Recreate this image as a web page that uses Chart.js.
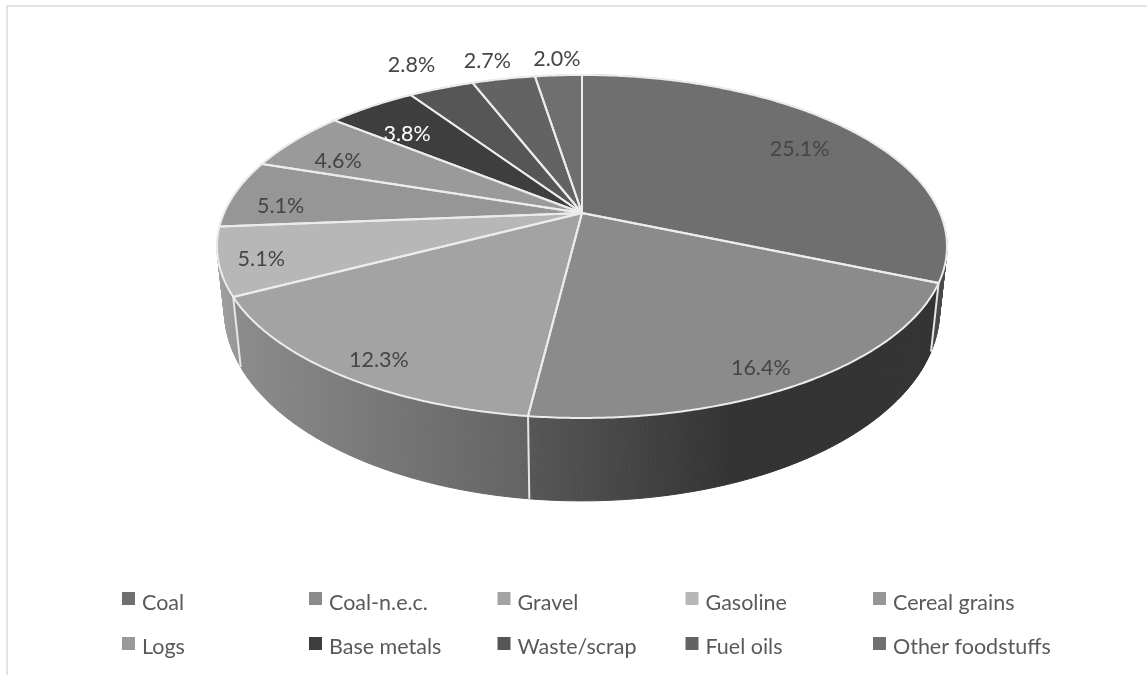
<!DOCTYPE html>
<html>
<head>
<meta charset="utf-8">
<title>Freight share by commodity</title>
<script src="https://cdn.jsdelivr.net/npm/chart.js@4/dist/chart.umd.min.js"></script>
<style>
    html, body { margin: 0; padding: 0; background: #fff; }
    #wrap { position: relative; width: 1147px; height: 675px; overflow: hidden; }
    #frame { position: absolute; left: 6px; top: 5px; right: 0; bottom: 0; border-top: 2px solid #e3e3e3; border-left: 2px solid #e3e3e3; }
    canvas { position: absolute; left: 0; top: 0; }
</style>
</head>
<body>
<div id="wrap">
    <canvas id="pieChart" width="1147" height="675"></canvas>
    <div id="frame"></div>
</div>
<script>
const categories = ['Coal', 'Coal-n.e.c.', 'Gravel', 'Gasoline', 'Cereal grains', 'Logs', 'Base metals', 'Waste/scrap', 'Fuel oils', 'Other foodstuffs'];
const shares = [25.1, 16.4, 12.3, 5.1, 5.1, 4.6, 3.8, 2.8, 2.7, 2.0];

const topColors = ['#6f6f6f', '#8b8b8b', '#a3a3a3', '#b7b7b7', '#969696', '#9a9a9a', '#3e3e3e', '#565656', '#636363', '#6f6f6f'];
const labelColors = ['#454545', '#454545', '#454545', '#454545', '#454545', '#454545', '#ffffff', '#454545', '#454545', '#454545'];
// left and right shade of the outer wall, per slice
const wallShades = [['#3a3a3a', '#4a4a4a'], ['#575757', '#333333'], ['#8c8c8c', '#636363'], ['#a2a2a2', '#949494']];
// where each percentage sits: distance out along the slice (1 = rim), and degrees off its middle
const labelRadius = [0.78, 0.9, 0.9, 0.89, 0.85, 0.8, 0.755, 1.23, 1.17, 1.14];
const labelTurn = [0.9, 2, -2.2, -1.2, -3.9, -3.9, -3.2, -0.5, -0.9, 0.2];

// tilted disc: unit circle to screen, with perspective
const disc = { cx: 582, cy: 213, k: 358, q: 165, p: 0.195, depth: 0.02 };

function project(angle, radius, bottom) {
    const x = radius * Math.sin(angle);
    const y = -radius * Math.cos(angle);
    const w = 1 - disc.p * y + (bottom ? disc.depth : 0);
    const wall = bottom ? 62 + 10.5 * y : 0;
    return {
        x: disc.cx + disc.k * x / w,
        y: disc.cy + (disc.q * y + wall) / w
    };
}

function arcPoints(from, to, bottom) {
    const pts = [];
    const steps = Math.max(2, Math.ceil(Math.abs(to - from) / 0.01));
    for (let i = 0; i <= steps; i++) {
        pts.push(project(from + (to - from) * i / steps, 1, bottom));
    }
    return pts;
}

function tracePath(ctx, pts) {
    ctx.beginPath();
    pts.forEach((pt, i) => i ? ctx.lineTo(pt.x, pt.y) : ctx.moveTo(pt.x, pt.y));
    ctx.closePath();
}

const tiltedPie = {
    id: 'tiltedPie',
    // replaces the flat arcs, the angles still come from the pie controller
    beforeDatasetDraw(chart, args) {
        const ctx = chart.ctx;
        const arcs = chart.getDatasetMeta(args.index).data;
        const spans = arcs.map(arc => [arc.startAngle + Math.PI / 2, arc.endAngle + Math.PI / 2]);

        ctx.save();
        ctx.lineJoin = 'round';

        // walls first, the top face covers whatever is behind it
        spans.forEach((span, i) => {
            const top = arcPoints(span[0], span[1], false);
            const low = arcPoints(span[0], span[1], true);
            const xs = top.concat(low).map(pt => pt.x);
            const shade = wallShades[i] || [topColors[i], topColors[i]];
            const grad = ctx.createLinearGradient(Math.min(...xs), 0, Math.max(...xs), 0);
            grad.addColorStop(0, shade[0]);
            grad.addColorStop(i === 1 ? 0.5 : 1, shade[1]);
            ctx.fillStyle = grad;
            ctx.strokeStyle = grad;
            ctx.lineWidth = 1;
            // strips overlap through the stroke so no hairlines show between them
            for (let s = 0; s < top.length - 1; s++) {
                tracePath(ctx, [top[s], top[s + 1], low[s + 1], low[s]]);
                ctx.fill();
                ctx.stroke();
            }
        });

        // seams on the visible part of the wall
        ctx.strokeStyle = '#e6e6e6';
        ctx.lineWidth = 2;
        spans.forEach(span => {
            if (-Math.cos(span[0]) < 0.25) return;
            const a = project(span[0], 1, false);
            const b = project(span[0], 1, true);
            ctx.beginPath();
            ctx.moveTo(a.x, a.y);
            ctx.lineTo(b.x, b.y);
            ctx.stroke();
        });

        // top face
        spans.forEach((span, i) => {
            tracePath(ctx, [{ x: disc.cx, y: disc.cy }].concat(arcPoints(span[0], span[1], false)));
            ctx.fillStyle = topColors[i];
            ctx.fill();
        });
        ctx.lineWidth = 2;
        ctx.strokeStyle = '#ececec';
        spans.forEach(span => {
            tracePath(ctx, [{ x: disc.cx, y: disc.cy }].concat(arcPoints(span[0], span[1], false)));
            ctx.stroke();
        });

        // percentages
        ctx.font = '21.5px Lato';
        ctx.textAlign = 'center';
        ctx.textBaseline = 'middle';
        spans.forEach((span, i) => {
            const mid = (span[0] + span[1]) / 2 + labelTurn[i] * Math.PI / 180;
            const pos = project(mid, labelRadius[i], false);
            ctx.fillStyle = labelColors[i];
            ctx.fillText(shares[i].toFixed(1) + '%', pos.x, pos.y);
        });

        ctx.restore();
        return false;
    },
    afterDraw(chart) {
        const ctx = chart.ctx;
        const columns = [122, 309, 497.5, 685.5, 873];
        ctx.save();
        ctx.font = '21.5px Lato';
        ctx.textAlign = 'left';
        ctx.textBaseline = 'alphabetic';
        categories.forEach((name, i) => {
            const col = columns[i % 5];
            const row = Math.floor(i / 5);
            ctx.fillStyle = topColors[i];
            ctx.fillRect(col, 592 + row * 45, 13, 13);
            ctx.fillStyle = '#595959';
            ctx.fillText(name, col + 20, 610 + row * 44);
        });
        ctx.restore();
    }
};

new Chart(document.getElementById('pieChart').getContext('2d'), {
    type: 'pie',
    data: {
        labels: categories,
        datasets: [{ data: shares, backgroundColor: topColors, borderWidth: 0 }]
    },
    options: {
        responsive: false,
        animation: false,
        plugins: {
            legend: { display: false },
            tooltip: { enabled: false }
        }
    },
    plugins: [tiltedPie]
});
</script>
</body>
</html>
